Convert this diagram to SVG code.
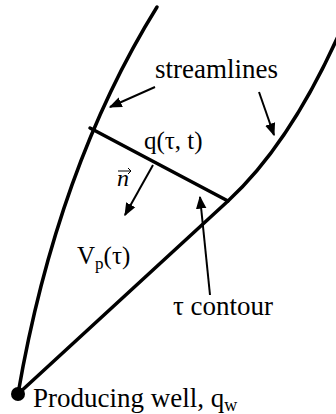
<svg xmlns="http://www.w3.org/2000/svg" width="336" height="414" viewBox="0 0 336 414">
<style>
.sl{fill:none;stroke:#000;stroke-width:3.5;stroke-linecap:round}
.ar{fill:none;stroke:#000;stroke-width:2}
.t{fill:#000}
</style>
<defs>
<marker id="ah" viewBox="0 0 10 10" refX="9" refY="5" markerWidth="6.5" markerHeight="6.5" markerUnits="strokeWidth" orient="auto">
<path d="M0,1 L10,5 L0,9 Z" fill="#000"/>
</marker>
</defs>
<rect width="336" height="414" fill="#fff"/>
<g id="streamline-left"><path class="sl" d="M157,7 Q57,168 18,394"/></g>
<g id="streamline-right"><path class="sl" d="M340,32 Q290,144 228,201 L18,394"/></g>
<g id="tau-contour"><path class="sl" d="M90,128 L228,201"/></g>
<g id="connectors">
<path class="ar" d="M155,87 L110,107" marker-end="url(#ah)"/>
<path class="ar" d="M259,92 L274,135" marker-end="url(#ah)"/>
<path class="ar" d="M153,165 L125,215" marker-end="url(#ah)"/>
<path class="ar" d="M210,295 L200,197" marker-end="url(#ah)"/>
</g>
<g id="well"><circle cx="18" cy="394" r="7" fill="#000"/></g>
<g id="labels">
<text class="t" font-family="Times New Roman, Liberation Serif, serif" x="155" y="78" font-size="27">streamlines</text>
<text class="t" font-family="Times New Roman, Liberation Serif, serif" x="144" y="149" font-size="25">q(τ, t)</text>
<text class="t" font-family="Times New Roman, Liberation Serif, serif" x="117" y="186" font-size="24" font-style="italic">n</text>
<path d="M118,171 L131,171 M128,168 L131,171 L128,174" fill="none" stroke="#000" stroke-width="1"/>
<text class="t" font-family="Times New Roman, Liberation Serif, serif" x="77" y="264" font-size="25">V<tspan font-size="17" dy="5">p</tspan><tspan dy="-5">(τ)</tspan></text>
<text class="t" font-family="Times New Roman, Liberation Serif, serif" x="173" y="315" font-size="27">τ contour</text>
<text class="t" font-family="Times New Roman, Liberation Serif, serif" x="33" y="407" font-size="27">Producing well, q<tspan font-size="18" dy="4">w</tspan></text>
</g>
</svg>
